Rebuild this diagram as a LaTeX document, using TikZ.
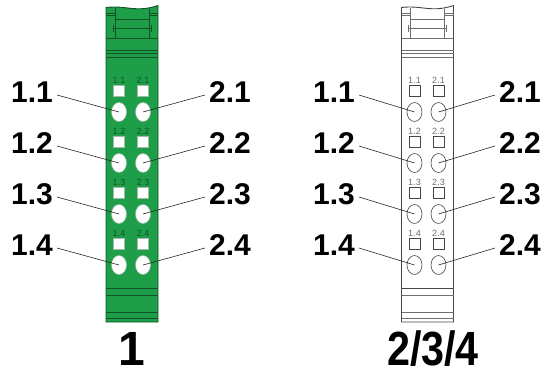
\documentclass[tikz,border=0pt]{standalone}
\usepackage{fontspec}
\setmainfont{Liberation Sans}
\usetikzlibrary{shapes.geometric}
\definecolor{modgreen}{RGB}{30,158,72}
\definecolor{moddark}{RGB}{16,84,38}
\definecolor{modgray}{RGB}{70,70,70}
\definecolor{lightline}{RGB}{110,110,110}
\tikzset{
  biglabel/.style={font=\bfseries\fontsize{30}{30}\selectfont, inner sep=0pt},
  hugelabel/.style={font=\bfseries\fontsize{48}{48}\selectfont, inner sep=0pt},
  tinylabel/.style={font=\fontsize{9}{9}\selectfont, inner sep=0pt},
  leader/.style={draw=black!85, line width=0.6pt},
  ledsq/.style={rectangle, minimum width=11pt, minimum height=11pt, inner sep=0pt, fill=white},
  ledel/.style={ellipse, minimum width=15pt, minimum height=19pt, inner sep=0pt, fill=white},
}
\newcommand\ledmodule[6]{% #1 x0, #2 fill, #3 edge, #4 inner lines, #5 prefix, #6 square/ellipse outline
  \begin{scope}[shift={(#1,0)}]
    \draw[fill=#2, draw=#3, line width=0.9pt]
      (0,7.5) .. controls (20,5) and (30,13) .. (52,5.5) -- (52,322) -- (0,322) -- cycle;
    \draw[#4, line width=0.5pt]
      (9,7.5) -- (9,38.3) (43,8.5) -- (43,38.3)
      (0,13) -- (9,13) (0,15.5) -- (9,15.5) (43,13) -- (52,13) (43,15.5) -- (52,15.5)
      (9,19) -- (43,19)
      (7,28.5) -- (45,28.5) (7,25) -- (7,32) (45,25) -- (45,32)
      (0,38.3) -- (52,38.3) (0,50) -- (52,50) (0,53) -- (52,53) (0,57) -- (52,57)
      (0,295) -- (52,295) (0,312) -- (52,312) (0,318) -- (52,318);
    \draw[#3, line width=0.7pt] (0,288) -- (52,288);
    \foreach \r in {1,2,3,4}{
      \pgfmathsetmacro\yy{112+51*(\r-1)}
      \node[tinylabel, text=#4] (#5ta\r) at (13,\yy-32) {1.\r};
      \node[tinylabel, text=#4] (#5tb\r) at (37,\yy-32) {2.\r};
      \node[ledsq, draw=#6, line width=0.6pt] (#5sa\r) at (13,\yy-21.5) {};
      \node[ledsq, draw=#6, line width=0.6pt] (#5sb\r) at (37,\yy-21.5) {};
      \node[ledel, draw=#6, line width=0.6pt] (#5a\r) at (13,\yy) {};
      \node[ledel, draw=#6, line width=0.6pt] (#5b\r) at (37,\yy) {};
    }
  \end{scope}
}
\begin{document}
\begin{tikzpicture}[x=1pt, y=-1pt]
  \useasboundingbox (0,0) rectangle (558,375);
  \ledmodule{106}{modgreen}{moddark}{moddark}{g}{moddark!40}
  \ledmodule{401.5}{white}{modgray}{lightline}{h}{modgray}
  \foreach \r in {1,2,3,4}{
    \pgfmathsetmacro\ly{92+51*(\r-1)}
    \node[biglabel, anchor=east] (gL\r) at (53,\ly) {1.\r};
    \node[biglabel, anchor=west] (gR\r) at (209,\ly) {2.\r};
    \node[biglabel, anchor=east] (hL\r) at (355,\ly) {1.\r};
    \node[biglabel, anchor=west] (hR\r) at (499,\ly) {2.\r};
    \draw[leader] ([xshift=4pt,yshift=-3pt]gL\r.east) -- (ga\r.center);
    \draw[leader] (gb\r.center) -- ([xshift=-4pt,yshift=-3pt]gR\r.west);
    \draw[leader] ([xshift=4pt,yshift=-3pt]hL\r.east) -- (ha\r.center);
    \draw[leader] (hb\r.center) -- ([xshift=-4pt,yshift=-3pt]hR\r.west);
  }
  \node[hugelabel] (n1) at (132,349) {1};
  \node[hugelabel] (n234) at (433,349) {\scalebox{0.86}[1]{2/3/4}};
\end{tikzpicture}
\end{document}
